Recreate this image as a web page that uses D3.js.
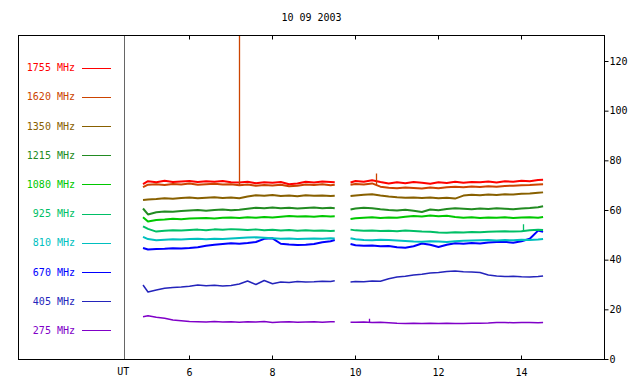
<!DOCTYPE html>
<html><head><meta charset="utf-8">
<script src="https://cdn.jsdelivr.net/npm/d3@7/dist/d3.min.js"></script>
<style>
html,body{margin:0;padding:0;background:#fff;}
svg{display:block;}
text{font-family:"DejaVu Sans Mono",monospace;font-size:10px;}
</style></head>
<body><svg id="c" width="640" height="384"></svg>
<script>
const title = "10 09 2003";
const freqs = ["1755 MHz","1620 MHz","1350 MHz","1215 MHz","1080 MHz","925 MHz","810 MHz","670 MHz","405 MHz","275 MHz"];
const colors = ["#ff0000","#cc4400","#886000","#228b22","#00c800","#00bf66","#00bfbf","#0000ff","#2424bb","#8000c8"];
const xTicks = [6,8,10,12,14];
const yTicks = [0,20,40,60,80,100,120];
const utHour = 4.43;
const times1 = [4.88,5.0,5.2,5.4,5.6,5.8,6.0,6.2,6.4,6.6,6.8,7.0,7.2,7.4,7.6,7.8,8.0,8.2,8.4,8.6,8.8,9.0,9.2,9.4,9.5];
const times2 = [9.88,10.0,10.2,10.4,10.6,10.8,11.0,11.2,11.4,11.6,11.8,12.0,12.2,12.4,12.6,12.8,13.0,13.2,13.4,13.6,13.8,14.0,14.2,14.4,14.52];

const s1755 = [70.6,71.8,71.4,72.0,71.5,71.7,71.9,71.5,71.8,71.6,71.9,71.4,71.3,71.6,71.0,71.4,71.2,71.5,70.6,70.9,71.6,71.3,71.7,71.5,71.4,
               71.3,71.9,71.6,72.2,71.5,70.9,71.4,71.0,71.5,71.2,70.8,71.4,71.1,71.6,71.2,71.5,71.4,71.7,71.3,71.8,71.6,72.0,71.8,72.3,72.4];
const s1620 = [69.4,70.4,70.6,70.3,70.7,70.5,70.9,70.4,70.6,70.8,70.5,70.6,70.2,70.5,70.0,70.3,70.1,70.4,69.8,70.0,70.5,70.3,70.6,70.2,70.4,
               70.4,70.7,70.5,70.9,69.6,69.2,69.0,69.3,69.1,68.9,69.3,69.0,69.4,69.6,69.4,69.7,69.5,69.8,69.6,69.9,70.0,70.2,70.3,70.5,70.6];
const s1350 = [64.2,64.4,64.6,64.9,64.7,65.0,65.2,64.9,65.1,65.3,65.0,65.2,64.9,65.6,66.1,65.9,66.2,65.8,66.0,65.7,66.1,65.9,66.0,65.8,65.9,
               65.8,66.0,66.3,66.5,66.0,65.6,65.3,65.1,65.2,65.0,65.2,64.9,65.1,64.8,66.0,66.3,66.1,66.4,66.2,66.5,66.4,66.7,66.8,67.1,67.3];
const s1215 = [60.8,58.4,59.3,59.6,59.5,59.8,60.0,60.2,59.9,60.2,60.4,60.1,60.3,60.7,61.1,60.9,61.2,60.9,61.1,60.8,61.0,61.2,60.9,61.1,60.9,
               60.4,60.8,61.1,60.9,60.5,60.2,60.0,60.3,59.9,59.4,60.4,60.1,60.6,60.9,60.7,60.5,60.8,60.6,60.9,60.7,60.5,60.8,61.0,61.3,61.7];
const s1080 = [57.3,55.6,56.2,56.4,56.7,56.5,56.8,56.9,57.0,56.8,57.1,57.2,57.0,57.3,57.1,57.4,57.2,57.5,57.8,57.6,57.7,57.5,57.8,57.6,57.7,
               56.6,56.9,57.1,57.3,57.0,57.2,57.1,57.5,57.8,57.6,58.0,57.7,57.9,57.4,57.1,57.3,57.0,57.2,57.1,57.3,57.0,57.2,57.3,57.1,57.4];
const s925  = [53.6,52.6,51.5,51.8,52.0,51.9,52.1,52.3,52.0,52.4,52.2,52.5,52.3,52.1,52.4,52.0,52.2,51.9,52.1,51.8,52.0,51.8,51.9,51.7,51.8,
               52.3,52.0,51.8,51.9,51.7,51.8,51.6,51.9,51.7,51.5,51.4,51.1,51.0,51.2,51.1,51.3,51.2,51.4,51.5,51.6,51.5,51.6,52.0,52.2,52.1];
const s810  = [49.4,48.5,48.0,48.2,48.4,48.3,48.5,48.6,48.4,48.6,48.5,48.7,48.9,49.1,49.2,49.0,48.8,48.6,48.7,48.5,48.6,48.7,48.6,48.8,48.7,
               48.8,48.4,48.1,48.0,48.2,48.1,47.9,47.7,47.5,47.4,47.6,47.5,47.3,47.6,47.8,47.9,48.0,48.1,47.9,48.1,48.0,48.2,48.1,48.3,48.5];
const s670  = [44.9,44.3,44.5,44.6,44.8,44.7,44.9,45.2,45.8,46.2,46.5,46.8,46.6,46.9,47.3,48.6,48.8,46.6,46.3,46.1,46.2,46.5,47.2,47.6,48.1,
               46.5,46.0,45.8,45.9,45.6,45.7,45.2,45.0,45.6,46.7,46.2,45.3,46.2,46.8,46.6,46.9,46.7,47.1,47.3,47.4,47.0,47.6,48.6,51.9,51.4];
const s405  = [30.0,27.2,28.0,28.7,29.0,29.2,29.5,30.0,29.7,29.9,29.6,29.8,30.4,31.6,30.2,31.8,30.5,31.2,31.0,31.4,31.2,31.3,31.5,31.4,31.7,
               31.2,31.4,31.3,31.6,31.5,32.5,33.2,33.5,34.0,34.3,34.8,35.0,35.4,35.6,35.3,35.2,35.0,34.0,33.6,33.4,33.5,33.3,33.2,33.4,33.6];
const s275  = [17.2,17.6,17.0,16.6,15.9,15.6,15.3,15.2,15.1,15.3,15.1,15.2,15.0,15.2,15.1,15.3,14.9,15.1,15.2,15.0,15.1,15.2,15.0,15.2,15.2,
               15.0,15.0,15.1,14.9,15.0,14.8,14.6,14.5,14.6,14.5,14.6,14.5,14.6,14.5,14.5,14.6,14.6,14.7,14.9,14.9,14.8,14.9,14.9,14.8,14.9];
const seriesValues = [s1755,s1620,s1350,s1215,s1080,s925,s810,s670,s405,s275];
// short spikes: series index, time (UT hours), peak value
const spikeSeries = [1, 1, 5, 9];
const spikeTimes  = [7.19, 10.5, 14.03, 10.33];
const spikePeaks  = [140, 74.9, 54.5, 16.4];

const svg = d3.select("#c");
const frame = {left:18.5, right:604.5, top:35.5, bottom:359.5};
const x = d3.scaleLinear().domain([6,16]).range([189.5, 604.5]);
const y = d3.scaleLinear().domain([0,120]).range([359.5, 61.5]);

svg.append("text").attr("x",(frame.left+frame.right)/2).attr("y",21)
  .attr("text-anchor","middle").attr("fill","#000").text(title);

svg.append("defs").append("clipPath").attr("id","clip").append("rect")
  .attr("x",frame.left).attr("y",frame.top)
  .attr("width",frame.right-frame.left).attr("height",frame.bottom-frame.top);

// UT line
svg.append("line").attr("x1",Math.round(x(utHour))+0.5).attr("x2",Math.round(x(utHour))+0.5)
  .attr("y1",frame.top).attr("y2",frame.bottom).attr("stroke","#666").attr("stroke-width",1);
svg.append("text").attr("x",x(utHour)-1).attr("y",374.5).attr("text-anchor","middle").text("UT");

function interp(tArr, vArr, t){
  for(let i=0;i<tArr.length-1;i++){
    if(t>=tArr[i] && t<=tArr[i+1]){
      const f=(t-tArr[i])/(tArr[i+1]-tArr[i]);
      return vArr[i]+f*(vArr[i+1]-vArr[i]);
    }
  }
  return vArr[vArr.length-1];
}
const line = d3.line().defined(d=>d!==null).x(d=>x(d.t)).y(d=>y(d.v));
const plotG = svg.append("g").attr("clip-path","url(#clip)");
const order = [9,8,7,6,5,4,3,2,0,1];
order.forEach(si=>{
  const vals = seriesValues[si];
  const n1 = times1.length;
  const seg1 = times1.map((t,i)=>({t,v:vals[i]}));
  const seg2 = times2.map((t,i)=>({t,v:vals[n1+i]}));
  const pts = seg1.concat([null], seg2);
  plotG.append("path").attr("d",line(pts)).attr("fill","none")
    .attr("stroke",colors[si]).attr("stroke-width", si>=8 ? 1.5 : 2)
    .attr("stroke-linejoin","round");
  spikeSeries.forEach((s,k)=>{
    if(s!==si) return;
    const t = spikeTimes[k];
    const seg = t < times2[0] ? seg1 : seg2;
    const base = interp(seg.map(d=>d.t), seg.map(d=>d.v), t);
    const xs = Math.round(x(t))+0.5;
    plotG.append("line").attr("x1",xs).attr("x2",xs).attr("y1",y(base)).attr("y2",y(spikePeaks[k]))
      .attr("stroke",colors[si]).attr("stroke-width",1.3);
  });
});

// frame
svg.append("rect").attr("x",frame.left).attr("y",frame.top)
  .attr("width",frame.right-frame.left).attr("height",frame.bottom-frame.top)
  .attr("fill","none").attr("stroke","#000").attr("stroke-width",1);

// axes
const gb = svg.append("g").attr("transform",`translate(0,${frame.bottom})`)
  .call(d3.axisBottom(x).tickValues(xTicks).tickSizeInner(-4).tickSizeOuter(0).tickPadding(9.5).offset(0));
const gt = svg.append("g").attr("transform",`translate(0,${frame.top})`)
  .call(d3.axisTop(x).tickValues(xTicks).tickSizeInner(-4).tickSizeOuter(0).tickFormat("").offset(0));
const gr = svg.append("g").attr("transform",`translate(${frame.right},0)`)
  .call(d3.axisRight(y).tickValues(yTicks).tickSize(4).tickPadding(1).offset(0));
[gb,gt,gr].forEach(g=>{
  g.select(".domain").remove();
  g.selectAll("text").attr("font-family","DejaVu Sans Mono").attr("font-size",10).attr("fill","#000");
  g.selectAll("line").attr("stroke","#000");
});

// legend
const legY0 = 67.5, legStep = 29.2;
freqs.forEach((f,i)=>{
  const ly = legY0 + i*legStep;
  svg.append("text").attr("x",75).attr("y",ly+3.6).attr("text-anchor","end")
    .attr("fill",colors[i]).text(f);
  svg.append("line").attr("x1",82).attr("x2",111).attr("y1",Math.round(ly)+0.5).attr("y2",Math.round(ly)+0.5)
    .attr("stroke",colors[i]).attr("stroke-width",1);
});
</script></body></html>
